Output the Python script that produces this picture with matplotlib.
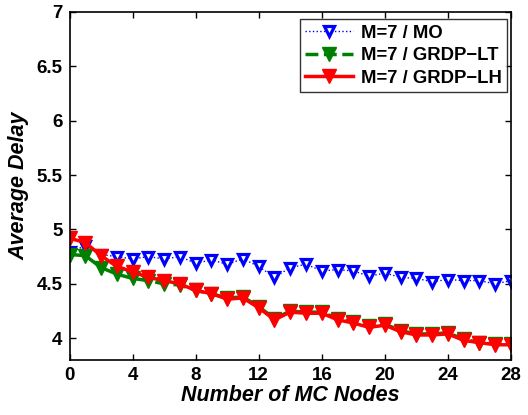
import matplotlib
matplotlib.use("Agg")
import matplotlib.pyplot as plt
import numpy as np

x = list(range(29))
mo = [4.79, 4.85, 4.77, 4.75, 4.73, 4.75, 4.73, 4.75, 4.69, 4.72, 4.68, 4.73, 4.66, 4.56, 4.65,
      4.68, 4.62, 4.63, 4.62, 4.57, 4.60, 4.56, 4.55, 4.52, 4.54, 4.53, 4.53, 4.50, 4.53]
lt = [4.77, 4.76, 4.65, 4.59, 4.55, 4.53, 4.50, 4.49, 4.44, 4.41, 4.37, 4.38, 4.29, 4.18, 4.25,
      4.24, 4.24, 4.18, 4.15, 4.11, 4.13, 4.07, 4.04, 4.04, 4.05, 3.99, 3.96, 3.95, 3.95]
lh = [4.92, 4.88, 4.76, 4.66, 4.61, 4.56, 4.53, 4.50, 4.44, 4.41, 4.36, 4.37, 4.28, 4.17, 4.24,
      4.23, 4.23, 4.17, 4.14, 4.10, 4.12, 4.06, 4.03, 4.03, 4.04, 3.98, 3.96, 3.94, 3.94]
xticks = [0, 4, 8, 12, 16, 20, 24, 28]
yticks = [4, 4.5, 5, 5.5, 6, 6.5, 7]
ytick_labels = ["4", "4.5", "5", "5.5", "6", "6.5", "7"]

plt.rcParams['font.family'] = ['Liberation Sans', 'DejaVu Sans']
plt.rcParams['font.weight'] = 'bold'

fig = plt.figure(figsize=(5.28, 4.15), dpi=100)
ax = fig.add_axes([69.5/528, 1-360/415, (511-69.5)/528, (360-12)/415])

ax.plot(x, mo, color='blue', linestyle=':', linewidth=1.0, marker='v', markersize=7,
        markerfacecolor='white', markeredgecolor='blue', markeredgewidth=2.3, label='M=7 / MO')
ax.plot(x, lt, color='green', linestyle='--', linewidth=2.5, marker='v', markersize=10,
        markerfacecolor='green', markeredgecolor='green', label='M=7 / GRDP\u2212LT')
ax.plot(x, lh, color='red', linestyle='-', linewidth=2.5, marker='v', markersize=10,
        markerfacecolor='red', markeredgecolor='red', label='M=7 / GRDP\u2212LH')

ax.set_xlim(0, 28)
ax.set_ylim(3.8, 7)
ax.set_xticks(xticks)
ax.set_yticks(yticks)
ax.set_yticklabels(ytick_labels)
ax.tick_params(direction='in', top=True, right=True, labelsize=13.5, length=4, width=1, pad=5)
for lbl in ax.get_xticklabels() + ax.get_yticklabels():
    lbl.set_fontweight('bold')
for s in ax.spines.values():
    s.set_linewidth(1.2)

ax.set_xlabel('Number of MC Nodes', fontsize=15.5, fontweight='bold', fontstyle='italic', labelpad=1)
ax.set_ylabel('Average Delay', fontsize=15.5, fontweight='bold', fontstyle='italic', labelpad=5)

leg = ax.legend(loc='upper right', bbox_to_anchor=(0.991, 0.98), fontsize=13.3, frameon=True,
                fancybox=False, edgecolor='black',
                borderpad=0.3, labelspacing=0.3, handlelength=2.6, handletextpad=0.4,
                borderaxespad=0.0)
leg.get_frame().set_linewidth(1.0)
for t in leg.get_texts():
    t.set_fontweight('bold')

fig.savefig('out.png', dpi=100)
